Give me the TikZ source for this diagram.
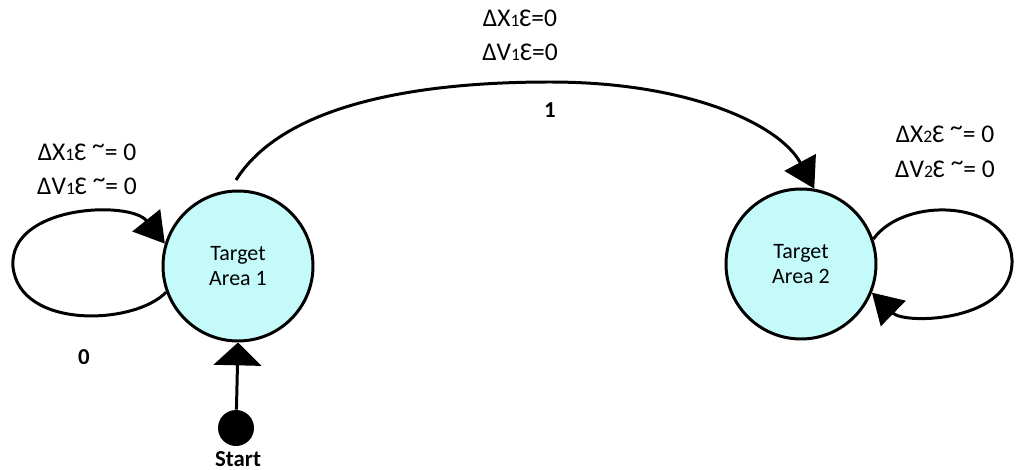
\documentclass[tikz,border=0pt]{standalone}
\usepackage{fontspec}
\setmainfont{Carlito}
\usetikzlibrary{arrows.meta}
\tikzset{
  state/.style={circle, draw=black, line width=1.7pt, fill=stfill, minimum size=150*0.02cm, inner sep=0pt, align=center, font=\fontsize{12.5}{14}\selectfont},
  conn/.style={draw=black, line width=1.7pt},
  bigtip/.style={-{Triangle[length=17pt,width=20pt]}},
  lbl/.style={font=\fontsize{14.5}{16}\selectfont, inner sep=0pt},
  blbl/.style={font=\fontsize{13}{15}\selectfont\bfseries, inner sep=0pt},
}
\definecolor{stfill}{HTML}{C4FAFA}
\newcommand{\sbd}[1]{{\fontsize{10}{11}\selectfont #1}}
\newcommand{\tld}{\raisebox{0.28em}{\textasciitilde}}
\begin{document}
\begin{tikzpicture}[x=0.02cm,y=-0.02cm]
\useasboundingbox (0,0) rectangle (1022,470);
\node[state] (t1) at (238,266) {Target\\Area 1};
\node[state] (t2) at (801,264) {Target\\Area 2};
\node[circle, fill=black, minimum size=36*0.02cm, inner sep=0pt] (st) at (236,428) {};
% labels
\node[lbl] (l1a) at (520,18) {ΔX\sbd{1}Ɛ=0};
\node[lbl] (l1b) at (520,52) {ΔV\sbd{1}Ɛ=0};
\node[blbl] (l1c) at (550,110) {1};
\node[lbl] (l0a) at (87,152) {ΔX\sbd{1}Ɛ \tld= 0};
\node[lbl] (l0b) at (87,186) {ΔV\sbd{1}Ɛ \tld= 0};
\node[blbl] (l0c) at (84,357) {0};
\node[lbl] (l2a) at (945,134) {ΔX\sbd{2}Ɛ \tld= 0};
\node[lbl] (l2b) at (945,169) {ΔV\sbd{2}Ɛ \tld= 0};
\node[blbl] (sl) at (238,459) {Start};
% connectors
\draw[conn, bigtip] (t1.200) .. controls (135,325) and (20,330) .. (13,267)
      .. controls (8,205) and (130,200) .. (t1.163);
\draw[conn, bigtip] (t2.19) .. controls (905,195) and (1010,200) .. (1012,260)
      .. controls (1014,322) and (905,325) .. (t2.-22);
\coordinate (arcstart) at (236,180);
\draw[conn, bigtip] (arcstart) .. controls (280,110) and (400,82) .. (550,82)
      .. controls (690,82) and (780,125) .. (t2.80);
\draw[conn, -{Triangle[length=13pt,width=27pt]}] (st) -- (t1.south);
\end{tikzpicture}
\end{document}
